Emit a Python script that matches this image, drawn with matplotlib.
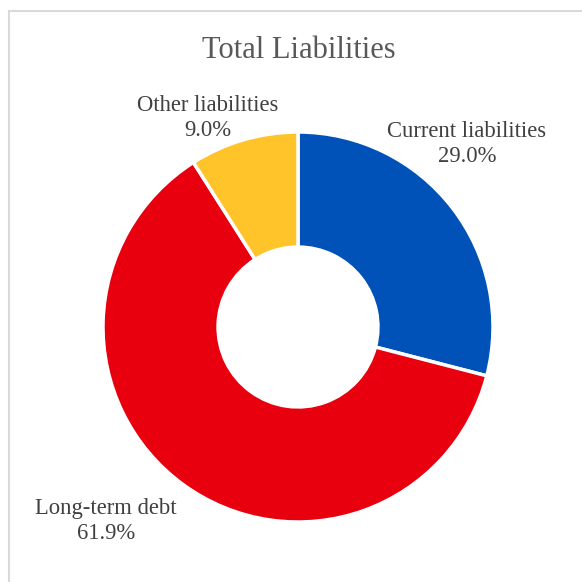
import matplotlib
matplotlib.use("Agg")
import matplotlib.pyplot as plt
from matplotlib.lines import Line2D

categories = ["Current liabilities", "Long-term debt", "Other liabilities"]
shares = [29.0, 61.9, 9.0]
colors = ["#0052B8", "#E8000F", "#FFC42A"]
title = "Total Liabilities"

W = H = 582
fig = plt.figure(figsize=(W / 100, H / 100), dpi=100)
fig.patch.set_facecolor("white")

# thin grey frame (top and left edges visible)
fig.add_artist(Line2D([9 / W, 9 / W], [0, 1 - 11 / H], transform=fig.transFigure,
                      color="#D9D9D9", lw=1.5))
fig.add_artist(Line2D([9 / W, 1], [1 - 11 / H, 1 - 11 / H], transform=fig.transFigure,
                      color="#D9D9D9", lw=1.5))

cx, cy, r = 298, 327, 195
ax = fig.add_axes([(cx - r) / W, 1 - (cy + r) / H, 2 * r / W, 2 * r / H])
wedges, _ = ax.pie(shares, colors=colors, startangle=90, counterclock=False,
                   radius=1.0, wedgeprops=dict(width=0.59, edgecolor="white", linewidth=2.5))
ax.set_xlim(-1, 1)
ax.set_ylim(-1, 1)
ax.set_aspect("equal")
ax.axis("off")

serif = ["Liberation Serif", "DejaVu Serif"]
fig.text(299 / W, 1 - 51 / H, title, ha="center", va="center",
         fontsize=22, color="#595959", family=serif)

label_pos = {
    "Current liabilities": (467, 144),
    "Long-term debt": (106, 521),
    "Other liabilities": (208, 118),
}
for name, val in zip(categories, shares):
    x, y = label_pos[name]
    fig.text(x / W, 1 - y / H, f"{name}\n{val:.1f}%", ha="center", va="center",
             fontsize=16.3, color="#404040", family=serif, linespacing=1.27)

fig.savefig("out.png", dpi=100, facecolor="white")
